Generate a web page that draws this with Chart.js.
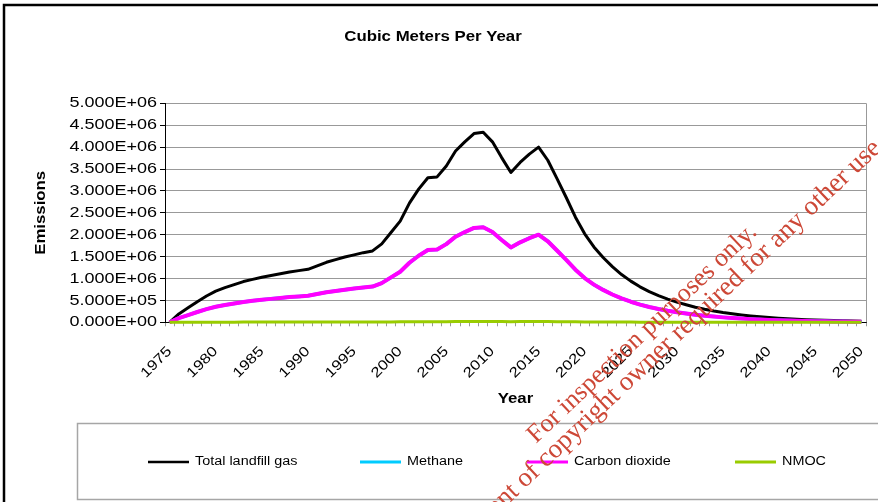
<!DOCTYPE html>
<html><head><meta charset="utf-8">
<script src="https://cdn.jsdelivr.net/npm/chart.js@4.4.1/dist/chart.umd.min.js"></script>
<style>html,body{margin:0;padding:0;background:#fff;overflow:hidden}canvas{display:block}</style>
</head><body>
<canvas id="c" width="878" height="502"></canvas>
<script>
// ---------- data ----------
const years = ['1975','1976','1977','1978','1979','1980','1981','1982','1983','1984',
  '1985','1986','1987','1988','1989','1990','1991','1992','1993','1994',
  '1995','1996','1997','1998','1999','2000','2001','2002','2003','2004',
  '2005','2006','2007','2008','2009','2010','2011','2012','2013','2014',
  '2015','2016','2017','2018','2019','2020','2021','2022','2023','2024',
  '2025','2026','2027','2028','2029','2030','2031','2032','2033','2034',
  '2035','2036','2037','2038','2039','2040','2041','2042','2043','2044',
  '2045','2046','2047','2048','2049','2050'];
const tickYears = ['1975','1980','1985','1990','1995','2000','2005','2010','2015',
  '2020','2025','2030','2035','2040','2045','2050'];
const totalGas = [0,190000,330000,470000,600000,710000,790000,860000,930000,980000,
  1030000,1070000,1110000,1150000,1180000,1210000,1290000,1370000,1430000,1490000,
  1540000,1590000,1630000,1790000,2050000,2310000,2720000,3040000,3300000,3320000,
  3570000,3910000,4120000,4310000,4340000,4120000,3760000,3420000,3650000,3840000,
  4000000,3700000,3280000,2850000,2400000,2020000,1720000,1480000,1270000,1090000,
  940000,810000,700000,610000,530000,460000,400000,345000,300000,260000,
  225000,195000,168000,145000,125000,108000,93000,80000,69000,60000,
  52000,45000,39000,34000,29000,25000];
const methane = [0,95000,165000,235000,300000,355000,395000,430000,465000,490000,
  515000,535000,555000,575000,590000,605000,645000,685000,715000,745000,
  770000,795000,815000,895000,1025000,1155000,1360000,1520000,1650000,1660000,
  1785000,1955000,2060000,2155000,2170000,2060000,1880000,1710000,1825000,1920000,
  2000000,1850000,1640000,1425000,1200000,1010000,860000,740000,635000,545000,
  470000,405000,350000,305000,265000,230000,200000,172500,150000,130000,
  112500,97500,84000,72500,62500,54000,46500,40000,34500,30000,
  26000,22500,19500,17000,14500,12500];
const carbonDioxide = [0,95000,165000,235000,300000,355000,395000,430000,465000,490000,
  515000,535000,555000,575000,590000,605000,645000,685000,715000,745000,
  770000,795000,815000,895000,1025000,1155000,1360000,1520000,1650000,1660000,
  1785000,1955000,2060000,2155000,2170000,2060000,1880000,1710000,1825000,1920000,
  2000000,1850000,1640000,1425000,1200000,1010000,860000,740000,635000,545000,
  470000,405000,350000,305000,265000,230000,200000,172500,150000,130000,
  112500,97500,84000,72500,62500,54000,46500,40000,34500,30000,
  26000,22500,19500,17000,14500,12500];
const nmoc = [0,800,1400,2000,2600,3000,3400,3700,4000,4200,
  4400,4600,4800,4900,5100,5200,5500,5900,6100,6400,
  6600,6800,7000,7700,8800,9900,11700,13100,14200,14300,
  15400,16800,17700,18500,18700,17700,16200,14700,15700,16500,
  17200,15900,14100,12300,10300,8700,7400,6400,5500,4700,
  4000,3500,3000,2600,2300,2000,1700,1500,1300,1100,
  930,800,720,620,540,460,400,340,300,260,
  220,190,170,150,130,110];
const seriesNames = ['Total landfill gas','Methane','Carbon dioxide','NMOC'];
const chartTitle = 'Cubic Meters Per Year';
const yTitle = 'Emissions';
const xTitle = 'Year';
const watermarkLines = ['For inspection purposes only.','Consent of copyright owner required for any other use.'];

// ---------- text horizontal stretch (reference text is rendered wide) ----------
const SX = 1.2;
const P = CanvasRenderingContext2D.prototype;
const origFill = P.fillText, origMeasure = P.measureText;
let stretch = true;
P.fillText = function(t, x, y, mw) {
  if (!stretch) return mw === undefined ? origFill.call(this, t, x, y) : origFill.call(this, t, x, y, mw);
  this.save(); this.translate(x, y); this.scale(SX, 1);
  if (mw === undefined) origFill.call(this, t, 0, 0); else origFill.call(this, t, 0, 0, mw / SX);
  this.restore();
};
P.measureText = function(t) {
  const m = origMeasure.call(this, t);
  if (!stretch) return m;
  return {width: m.width * SX,
    actualBoundingBoxAscent: m.actualBoundingBoxAscent, actualBoundingBoxDescent: m.actualBoundingBoxDescent,
    actualBoundingBoxLeft: m.actualBoundingBoxLeft * SX, actualBoundingBoxRight: m.actualBoundingBoxRight * SX,
    fontBoundingBoxAscent: m.fontBoundingBoxAscent, fontBoundingBoxDescent: m.fontBoundingBoxDescent};
};

function sci(v) {
  if (v === 0) return '0.000E+00';
  const e = Math.floor(Math.log10(Math.abs(v)) + 1e-9);
  const m = v / Math.pow(10, e);
  return m.toFixed(3) + 'E' + (e < 0 ? '-' : '+') + String(Math.abs(e)).padStart(2, '0');
}

const FAM = "'Liberation Sans', Arial, sans-serif";
const colors = ['#000000', '#00CCFF', '#FF00FF', '#99CC00'];

const decor = {
  id: 'decor',
  afterDraw(chart) {
    const ctx = chart.ctx, a = chart.chartArea;
    ctx.save();
    // plot area right border
    ctx.strokeStyle = '#999'; ctx.lineWidth = 1;
    ctx.beginPath(); ctx.moveTo(Math.round(a.right) + 0.5, a.top); ctx.lineTo(Math.round(a.right) + 0.5, a.bottom); ctx.stroke();
    // legend box
    ctx.strokeStyle = '#a6a6a6'; ctx.lineWidth = 1.5;
    ctx.strokeRect(77.5, 423.5, 830, 76);
    const lx = [148, 360, 527, 735];
    const ly = 462;
    ctx.font = '12px ' + FAM; ctx.fillStyle = '#000'; ctx.textBaseline = 'middle'; ctx.textAlign = 'left';
    chart.data.datasets.forEach((ds, i) => {
      ctx.strokeStyle = ds.borderColor; ctx.lineWidth = i === 0 ? 2.5 : 3;
      ctx.beginPath(); ctx.moveTo(lx[i], ly); ctx.lineTo(lx[i] + 41, ly); ctx.stroke();
      ctx.fillText(ds.label, lx[i] + 47, ly);
    });
    // outer frame
    ctx.strokeStyle = '#000'; ctx.lineWidth = 2.5;
    ctx.beginPath(); ctx.moveTo(4, 510); ctx.lineTo(4, 5); ctx.lineTo(890, 5); ctx.stroke();
    // watermark
    stretch = false;
    ctx.fillStyle = 'rgb(205,72,55)';
    ctx.textBaseline = 'alphabetic';
    const ang = -43.5 * Math.PI / 180;
    ctx.font = "26px 'Liberation Serif', 'Times New Roman', serif";
    ctx.save(); ctx.translate(536, 444); ctx.rotate(ang); ctx.textAlign = 'left';
    ctx.fillText(watermarkLines[0], 0, 0); ctx.restore();
    ctx.font = "27px 'Liberation Serif', 'Times New Roman', serif";
    ctx.save(); ctx.translate(887, 145); ctx.rotate(ang); ctx.textAlign = 'right';
    ctx.fillText(watermarkLines[1], 0, 0); ctx.restore();
    stretch = true;
    ctx.restore();
  }
};

const mk = (i, data, w, order) => ({
  label: seriesNames[i], data, borderColor: colors[i], backgroundColor: colors[i],
  borderWidth: w, pointRadius: 0, pointHoverRadius: 0, fill: false, tension: 0,
  borderJoinStyle: 'round', order, clip: false
});

new Chart(document.getElementById('c'), {
  type: 'line',
  data: {
    labels: years,
    datasets: [mk(0, totalGas, 3, 4), mk(1, methane, 3.5, 3), mk(2, carbonDioxide, 4, 2), mk(3, nmoc, 3, 1)]
  },
  options: {
    responsive: false, animation: false, devicePixelRatio: 1,
    layout: {padding: {left: 0, right: 12, top: 0, bottom: 0}},
    plugins: {
      legend: {display: false}, tooltip: {enabled: false},
      title: {display: true, text: chartTitle, color: '#000',
        font: {family: FAM, size: 14, weight: 'bold'}, padding: {top: 28.6, bottom: 57.9}}
    },
    scales: {
      x: {
        type: 'category', offset: true,
        grid: {offset: true, drawOnChartArea: false, drawTicks: true, tickLength: 4, color: '#999'},
        border: {color: '#000', width: 1},
        ticks: {autoSkip: false, maxRotation: 45, minRotation: 45, padding: 17, color: '#000',
          font: {family: FAM, size: 14},
          callback: (v, i) => tickYears.includes(years[i]) ? years[i] : ''},
        title: {display: true, text: xTitle, color: '#000', font: {family: FAM, size: 14, weight: 'bold'},
          padding: {top: 0, bottom: 94.6}},
        afterFit: s => { s.height = 179.7; s.paddingLeft = 0; s.paddingRight = 0; }
      },
      y: {
        min: 0, max: 5000000,
        grid: {color: '#999', tickLength: 5, tickColor: '#000'},
        border: {color: '#000', width: 1},
        ticks: {stepSize: 500000, padding: 3, color: '#000', font: {family: FAM, size: 15}, callback: v => sci(v)},
        title: {display: true, text: yTitle, color: '#000', font: {family: FAM, size: 14, weight: 'bold'},
          padding: {top: 33, bottom: 0}},
        afterFit: s => { s.width = 165; }
      }
    }
  },
  plugins: [decor]
});
</script>
</body></html>
